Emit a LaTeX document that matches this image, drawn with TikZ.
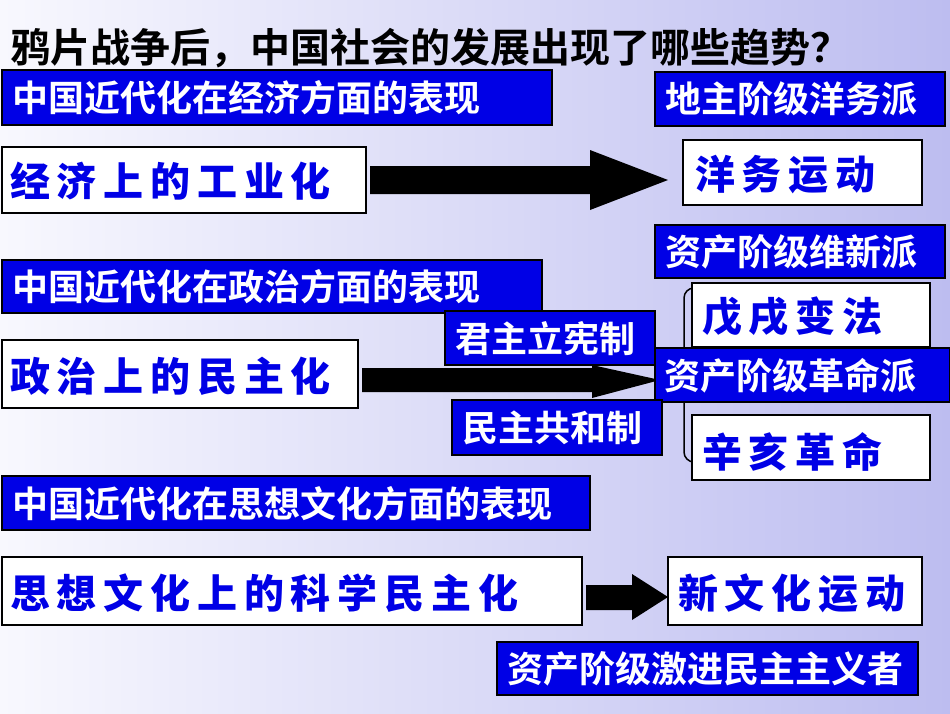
\documentclass[tikz,border=0pt]{standalone}
\usepackage{fontspec}
\setmainfont{Noto Sans CJK SC}
\newfontfamily\cjkb{Noto Sans CJK SC Bold}
\newfontfamily\cjkh[LetterSpace=17]{Noto Sans CJK SC Black}
\definecolor{pblue}{HTML}{0000E6}
\definecolor{bgl}{HTML}{F8F8FE}
\definecolor{bgr}{HTML}{BDBDF0}
\tikzset{bt/.style={anchor=west,text=white,font=\cjkb\fontsize{36}{36}\selectfont,inner sep=0pt},
 wt/.style={anchor=west,text=pblue,font=\cjkh\fontsize{40}{40}\selectfont,inner sep=0pt}}
\begin{document}
\begin{tikzpicture}[x=1pt,y=-1pt,
 bb/.style={draw=black,line width=1.5pt,fill=pblue},
 wb/.style={draw=black,line width=1.5pt,fill=white},
 arr/.style={fill=black}]
\shade[left color=bgl,right color=bgr] (0,0) rectangle (950,713);
\useasboundingbox (0,0) rectangle (950,713);
\node[anchor=west,inner sep=0pt,font=\cjkb\fontsize{40}{40}\selectfont] (t) at (10,48) {鸦片战争后，中国社会的发展出现了哪些趋势？};
% bracket
\draw[line width=1.5pt,rounded corners=10pt] (700,288) -- (684,288) -- (684,462) -- (700,462);
\path[bb] (2,70) rectangle (552,125); \node[bt] (b1) at (12,98) {中国近代化在经济方面的表现};
\path[bb] (655,72) rectangle (945,126); \node[bt] (b2) at (665,99) {地主阶级洋务派};
\path[wb] (2,147) rectangle (366,213); \node[wt] (w1) at (10,181) {经济上的工业化};
\path[wb] (683,140) rectangle (922,205); \node[wt] (w2) at (695,175) {洋务运动};
\path[bb] (655,225) rectangle (945,278); \node[bt] (b3) at (665,252) {资产阶级维新派};
\path[bb] (2,260) rectangle (542,313); \node[bt] (b4) at (12,287) {中国近代化在政治方面的表现};
\path[wb] (692,283) rectangle (930,347); \node[wt] (w3) at (702,317) {戊戌变法};
\path[wb] (692,415) rectangle (930,480); \node[wt] (w4) at (702,452) {辛亥革命};
\path[wb] (2,340) rectangle (358,408); \node[wt] (w5) at (10,376) {政治上的民主化};
% arrows
\fill[arr] (370,166) -- (590,166) -- (590,150) -- (668,180) -- (590,210) -- (590,194) -- (370,194) -- cycle;
\fill[arr] (362,368) -- (592,368) -- (592,365) -- (660,380) -- (592,398) -- (592,392) -- (362,392) -- cycle;
\path[bb] (445,311) rectangle (655,365); \node[bt] (b5) at (455,339) {君主立宪制};
\path[bb] (655,348) rectangle (950,402); \node[bt] (b6) at (664,376) {资产阶级革命派};
\path[bb] (452,400) rectangle (662,455); \node[bt] (b7) at (462,428) {民主共和制};
\path[bb] (2,476) rectangle (590,530); \node[bt] (b8) at (12,504) {中国近代化在思想文化方面的表现};
\path[wb] (2,557) rectangle (582,625); \node[wt] (w6) at (10,593) {思想文化上的科学民主化};
\fill[arr] (586,585) -- (632,585) -- (632,574) -- (668,597) -- (632,620) -- (632,610) -- (586,610) -- cycle;
\path[wb] (668,557) rectangle (922,625); \node[wt] (w7) at (678,593) {新文化运动};
\path[bb] (497,642) rectangle (918,695); \node[bt] (b9) at (507,669) {资产阶级激进民主主义者};
\end{tikzpicture}
\end{document}
